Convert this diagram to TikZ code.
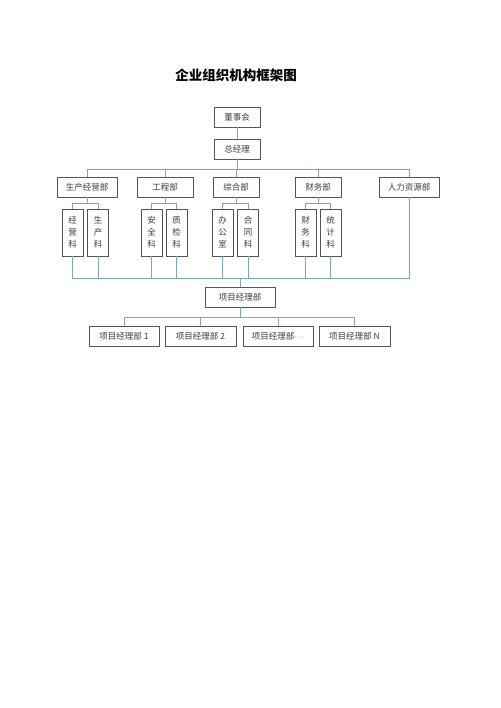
\documentclass[tikz,border=0pt]{standalone}
\usepackage{fontspec}
\usepackage{tikz}
\usepackage{xcolor}
\newfontfamily\cjk{Noto Sans CJK SC}
\definecolor{ln}{HTML}{7FA3C2}
\definecolor{bx}{HTML}{555555}
\definecolor{tx}{HTML}{3A3A3A}

\begin{document}
\begin{tikzpicture}[x=1pt,y=-1pt]
  \tikzstyle{every node}=[font=\cjk\fontsize{8.5}{12}\selectfont,text=tx]
  \tikzstyle{box}=[draw=bx,line width=0.8pt,inner sep=0pt,minimum height=20pt]
  \tikzstyle{sub}=[draw=bx,line width=0.8pt,inner sep=0pt,minimum width=21pt,minimum height=47pt,align=center]
  \tikzstyle{conn}=[draw=ln,line width=0.9pt]
  \useasboundingbox (0,0) rectangle (500,708);
  % title
  \node[font=\cjk\bfseries\fontsize{13.5}{16}\selectfont,text=black] (title) at (236,75) {企业组织机构框架图};
  % top
  \node[box,minimum width=46pt] (dsh) at (237,117) {董事会};
  \node[box,minimum width=46pt] (zjl) at (237,149) {总经理};
  % departments
  \node[box,minimum width=60pt] (d1) at (87,187) {生产经营部};
  \node[box,minimum width=56pt] (d2) at (165,187) {工程部};
  \node[box,minimum width=46pt] (d3) at (236,187) {综合部};
  \node[box,minimum width=46pt] (d4) at (318,187) {财务部};
  \node[box,minimum width=60pt] (d5) at (409,187) {人力资源部};
  % sections
  \node[sub] (s1a) at (72.5,232.5) {经\\营\\科};
  \node[sub] (s1b) at (98,232.5) {生\\产\\科};
  \node[sub] (s2a) at (151.5,232.5) {安\\全\\科};
  \node[sub] (s2b) at (176.5,232.5) {质\\检\\科};
  \node[sub] (s3a) at (222.5,232.5) {办\\公\\室};
  \node[sub] (s3b) at (248,232.5) {合\\同\\科};
  \node[sub] (s4a) at (305.5,232.5) {财\\务\\科};
  \node[sub] (s4b) at (330.5,232.5) {统\\计\\科};
  % projects
  \node[box,minimum width=70pt] (xm) at (240,297) {项目经理部};
  \node[box,minimum width=70pt] (p1) at (124,336.5) {项目经理部 1};
  \node[box,minimum width=71pt] (p2) at (200.5,336.5) {项目经理部 2};
  \node[box,minimum width=70pt] (p3) at (278,336.5) {项目经理部\textbf{$\cdots$}};
  \node[box,minimum width=71pt] (p4) at (354.5,336.5) {项目经理部 N};
  % bus levels
  \coordinate (b1) at (0,169);
  \coordinate (b2) at (0,203);
  \coordinate (b3) at (0,278);
  \coordinate (b4) at (0,317);
  % connectors
  \draw[conn] (dsh.south) -- (zjl.north);
  \draw[conn] (zjl.south) -- (zjl.south |- b1);
  \draw[conn] (d1.north) -- (d1.north |- b1) -- (d5.north |- b1) -- (d5.north);
  \draw[conn] (d2.north) -- (d2.north |- b1);
  \draw[conn] (d3.north) -- (d3.north |- b1);
  \draw[conn] (d4.north) -- (d4.north |- b1);
  \draw[conn] (d1.south) -- (d1.south |- b2);
  \draw[conn] (s1a.north) -- (s1a.north |- b2) -- (s1b.north |- b2) -- (s1b.north);
  \draw[conn] (d2.south) -- (d2.south |- b2);
  \draw[conn] (s2a.north) -- (s2a.north |- b2) -- (s2b.north |- b2) -- (s2b.north);
  \draw[conn] (d3.south) -- (d3.south |- b2);
  \draw[conn] (s3a.north) -- (s3a.north |- b2) -- (s3b.north |- b2) -- (s3b.north);
  \draw[conn] (d4.south) -- (d4.south |- b2);
  \draw[conn] (s4a.north) -- (s4a.north |- b2) -- (s4b.north |- b2) -- (s4b.north);
  \draw[conn] (s1a.south) -- (s1a.south |- b3) -- (d5.south |- b3) -- (d5.south);
  \draw[conn] (s1b.south) -- (s1b.south |- b3);
  \draw[conn] (s2a.south) -- (s2a.south |- b3);
  \draw[conn] (s2b.south) -- (s2b.south |- b3);
  \draw[conn] (s3a.south) -- (s3a.south |- b3);
  \draw[conn] (s3b.south) -- (s3b.south |- b3);
  \draw[conn] (s4a.south) -- (s4a.south |- b3);
  \draw[conn] (s4b.south) -- (s4b.south |- b3);
  \draw[conn] (xm.north) -- (xm.north |- b3);
  \draw[conn] (xm.south) -- (xm.south |- b4);
  \draw[conn] (p1.north) -- (p1.north |- b4) -- (p4.north |- b4) -- (p4.north);
  \draw[conn] (p2.north) -- (p2.north |- b4);
  \draw[conn] (p3.north) -- (p3.north |- b4);
\end{tikzpicture}
\end{document}
